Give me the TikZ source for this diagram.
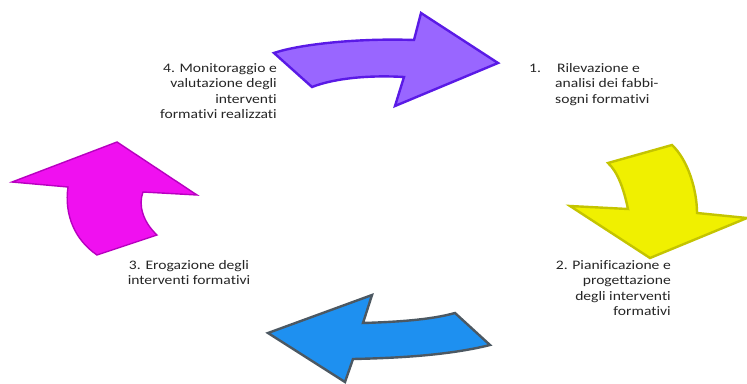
\documentclass[tikz,border=0pt]{standalone}
\usepackage{fontspec}
\setmainfont[FakeStretch=1.2,Ligatures=NoCommon]{Carlito}
\usepackage{tikz}
\usetikzlibrary{positioning}
\definecolor{Lila}{HTML}{9966FF}
\definecolor{LilaLine}{HTML}{5A1AE6}
\definecolor{Giallo}{HTML}{F0F000}
\definecolor{GialloLine}{HTML}{C4C400}
\definecolor{Azzurro}{HTML}{1E90F0}
\definecolor{AzzurroLine}{HTML}{4C5862}
\definecolor{Magenta}{HTML}{F010F0}
\definecolor{MagentaLine}{HTML}{B800C0}
\definecolor{Testo}{HTML}{262626}

\begin{document}
\begin{tikzpicture}[x=1pt,y=-1pt,
    freccia/.style={line width=2.4pt,line join=miter},
    t/.style={font=\fontsize{13}{15.5}\selectfont,text=Testo,inner sep=0pt}]
    \useasboundingbox[fill=white] (0,0) rectangle (747,383);
    % frecce del ciclo
    \draw[freccia,draw=LilaLine,fill=Lila] (274,53) .. controls (300,44) and (360,38) .. (414,40) -- (421,13) -- (498,63) -- (395,106) -- (404,77) .. controls (370,75) and (335,78) .. (312,87) -- cycle;
    \draw[freccia,draw=GialloLine,fill=Giallo] (608,163) -- (672,145) .. controls (688,160) and (697,190) .. (697,213) -- (747,218) -- (650,258) -- (570,206) -- (628,209) .. controls (624,190) and (618,172) .. cycle;
    \draw[freccia,draw=AzzurroLine,fill=Azzurro] (268,333) -- (372,295) -- (363,323) .. controls (395,322) and (430,320) .. (455,313) -- (490,345) .. controls (450,355) and (400,358) .. (353,359) -- (345,382) -- cycle;
    \draw[freccia,line width=1.4pt,draw=MagentaLine,fill=Magenta] (12,182) -- (117,142) -- (197,195) -- (143,192) .. controls (138,205) and (143,222) .. (157,235) -- (97,255) .. controls (75,240) and (64,215) .. (68,187) -- cycle;
    % testi
    \node[t,align=left,anchor=north west] (uno) at (529,63) {1.\hspace{16pt}Rilevazione e\\\hspace{26pt}analisi dei fabbi-\\\hspace{26pt}sogni formativi};
    \node[t,align=right,anchor=north east] (due) at (671,260) {2. Pianificazione e\\progettazione\\degli interventi\\formativi};
    \node[t,align=center,anchor=north] (tre) at (189,260) {3. Erogazione degli\\interventi formativi};
    \node[t,align=right,anchor=north east] (quattro) at (277,63) {4. Monitoraggio e\\valutazione degli\\interventi\\formativi realizzati};
\end{tikzpicture}
\end{document}
